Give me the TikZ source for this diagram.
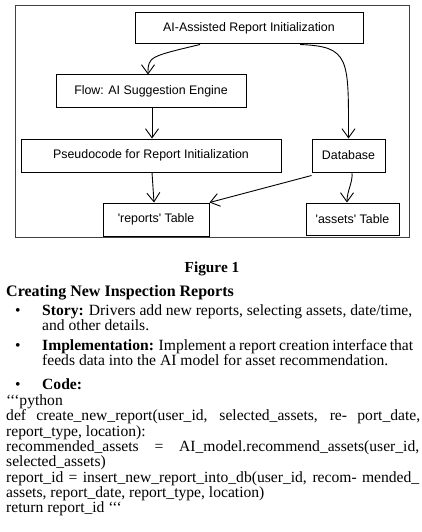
\documentclass[tikz,border=0pt]{standalone}
\usepackage{fontspec}
\setmainfont{Liberation Serif}
\newfontfamily\diagfont{Liberation Sans}
\usetikzlibrary{arrows.meta}
\begin{document}
\begin{tikzpicture}[x=1pt,y=-1pt,
  box/.style={draw=black,line width=1pt,inner sep=0pt,font=\diagfont\fontsize{12.4}{14}\selectfont},
  conn/.style={draw=black,line width=0.9pt,-{Straight Barb[length=9pt,width=13pt,line width=0.9pt]}},
  txt/.style={anchor=base west,inner sep=0pt,font=\fontsize{15.6}{16}\selectfont},
  bul/.style={anchor=base west,inner sep=0pt,font=\fontsize{15.6}{16}\selectfont}]
\useasboundingbox (0,0) rectangle (421,532);
\fill[white] (0,0) rectangle (421,532);
% frame
\draw[draw=black!75,line width=0.9pt] (15,5) rectangle (409,237);
% boxes
\node[box,minimum width=228pt,minimum height=31pt] (ai) at (249,28.5) {AI-Assisted Report Initialization};
\node[box,minimum width=190pt,minimum height=33pt] (flow) at (151,91.5) {Flow: AI Suggestion Engine};
\node[box,minimum width=260pt,minimum height=33pt] (pseudo) at (151,155.5) {Pseudocode for Report Initialization};
\node[box,minimum width=73pt,minimum height=33pt] (db) at (348.5,155.5) {Database};
\node[box,minimum width=106pt,minimum height=33pt] (rep) at (156,219.5) {'reports' Table};
\node[box,minimum width=93pt,minimum height=32pt] (ast) at (352.5,219) {'assets' Table};
% connectors
\draw[conn] ([xshift=-49pt]ai.south) .. controls +(-50,12) and +(0,-18) .. ([xshift=-3pt]flow.north);
\draw[conn] ([xshift=51pt]ai.south) .. controls +(50,2) and +(0,-80) .. ([xshift=0pt]db.north);
\draw[conn] ([xshift=1pt]flow.south) -- ([xshift=1pt]pseudo.north);
\draw[conn] ([xshift=1pt]pseudo.south) -- ([xshift=-2pt]rep.north);
\draw[conn] ([yshift=-3pt]db.south west) -- (rep.north east);
\draw[conn] ([xshift=3.5pt]db.south) .. controls +(1,10) and +(0,-12) .. ([xshift=-5.5pt]ast.north);
% caption and text
\node[anchor=base,inner sep=0pt,font=\fontsize{15.3}{17}\selectfont\bfseries] (fig) at (212,272) {Figure 1};
\node[txt,font=\fontsize{16}{17}\selectfont\bfseries] (h) at (6,296) {Creating New Inspection Reports};
\node[bul] (b1) at (15,315.5) {•};
\node[txt] (s1) at (42,315.5) {\makebox[370pt][s]{\textbf{Story:} Drivers add new reports, selecting assets, date/time,}};
\node[txt] (s2) at (42,330.5) {and other details.};
\node[bul] (b2) at (15,350.5) {•};
\node[txt] (i1) at (42,350.5) {\makebox[371pt][s]{\textbf{Implementation:} Implement a report creation interface that}};
\node[txt] (i2) at (42,365.5) {feeds data into the AI model for asset recommendation.};
\node[bul] (b3) at (15,389) {•};
\node[txt] (c0) at (42,389) {\textbf{Code:}};
\node[txt] (c1) at (6,405) {\textquoteleft\textquoteleft\textquoteleft python};
\node[txt] (c2) at (6,420.5) {\makebox[414pt][s]{def create\_new\_report(user\_id, selected\_assets, re- port\_date,}};
\node[txt] (c3) at (6,436) {report\_type, location):};
\node[txt] (c4) at (6,451.5) {\makebox[413pt][s]{recommended\_assets = AI\_model.recommend\_assets(user\_id,}};
\node[txt] (c5) at (6,466.5) {selected\_assets)};
\node[txt] (c6) at (6,482) {\makebox[413pt][s]{report\_id = insert\_new\_report\_into\_db(user\_id, recom- mended\_}};
\node[txt] (c7) at (6,497) {assets, report\_date, report\_type, location)};
\node[txt] (c8) at (6,512.5) {return report\_id \textquoteleft\textquoteleft\textquoteleft};
\end{tikzpicture}
\end{document}
